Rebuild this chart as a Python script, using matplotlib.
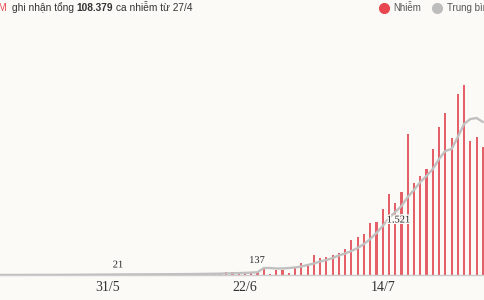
import numpy as np
import pandas as pd
import matplotlib
matplotlib.use("Agg")
import matplotlib.pyplot as plt
import matplotlib.dates as mdates
import matplotlib.patheffects as pe
from matplotlib.lines import Line2D

# daily new cases from 27/4
start = "2021-04-27"
cases = [0, 0, 0, 0, 1, 0, 0, 0, 0, 1, 0, 0, 0, 1, 0, 0, 0, 1, 0, 0, 2, 0, 1, 0, 2, 1, 3,
         3, 4, 5, 6, 6, 7, 8, 8, 9, 9, 10, 10, 11, 11, 12, 12, 13,
         25, 27, 30, 36, 38, 48, 51, 50, 60, 63, 72, 75, 74, 78, 76,
         168, 18, 125, 125, 58, 168, 293, 275, 500, 418, 443, 500, 543, 643, 875,
         958, 1018, 1308, 1325, 1643, 2018, 1793, 2075, 3525, 2293, 2475, 2658,
         3158, 3693, 4058, 3418, 4518, 4758, 3343, 3443, 3200]

# 7-day average as drawn
avg7 = [0, 0, 0, 0, 0, 0, 0, 0, 0, 1, 1, 1, 1, 1, 1, 1, 1,
        1, 1, 1, 1, 1, 2, 2, 2, 2, 3,
        4, 5, 6, 7, 8, 9, 10, 11, 12, 13, 14, 15, 16, 16, 17, 18, 19,
        20, 21, 22, 23, 25, 27, 29, 31, 34, 38, 42, 47, 53, 60, 68,
        175, 175, 163, 163, 175, 188, 213, 250, 288, 338, 375, 425, 488, 538, 600,
        675, 775, 900, 1050, 1225, 1425, 1575, 1725, 1950, 2125, 2325, 2475, 2650,
        2900, 3100, 3150, 3450, 3775, 3900, 3925, 3825]

tick_dates = ["2021-05-31", "2021-06-22", "2021-07-14"]
tick_labels = ["31/5", "22/6", "14/7"]

# (label, days after start, height)
notes = [("21", 35.7, 250), ("137", 57.9, 363), ("1.521", 80.5, 1375)]

bg = "#fbfaf7"
red = "#e45f68"
grey = "#c0c0c0"

dates = pd.date_range(start, periods=len(cases), freq="D")
x0 = mdates.date2num(pd.Timestamp(start))

fig = plt.figure(figsize=(4.85, 3.0), dpi=100, facecolor=bg)
ax = fig.add_axes([0, 25 / 300, 1, 245 / 300])
ax.set_facecolor(bg)

ax.bar(dates, cases, width=0.34, color=red, zorder=2)
ax.plot(dates, avg7, color=grey, lw=1.7, zorder=3, solid_capstyle="round")

for lab, d, v in notes:
    ax.text(x0 + d, v, lab, ha="center", va="center", fontsize=7.5,
            family="Liberation Serif", color="#222222", zorder=4,
            path_effects=[pe.withStroke(linewidth=2, foreground=bg)])

ax.set_xlim(x0 + 16.87, x0 + 94.34)
ax.set_ylim(0, 6125)
ax.set_xticks(pd.to_datetime(tick_dates))
ax.set_xticklabels(tick_labels, family="Liberation Serif", fontsize=10,
                   color="#333333")
ax.tick_params(axis="x", length=0, pad=4.5)
ax.set_yticks([])
for s in ["top", "left", "right"]:
    ax.spines[s].set_visible(False)
ax.spines["bottom"].set_color("#cccccc")
ax.spines["bottom"].set_linewidth(1)

# header
W, H = 485, 300
fig.text(6.5 / W, 1 - 8 / H, "TP HCM", ha="right", va="center",
         fontsize=7.3, family="Liberation Sans", color="#e8474f")
fig.canvas.draw()
r = fig.canvas.get_renderer()
xpos = 11.7
for piece, wt in [("ghi nhận tổng", "normal"), ("108.379", "bold"),
                  ("ca nhiễm từ 27/4", "normal")]:
    t = fig.text(xpos / W, 1 - 8 / H, piece, ha="left", va="center",
                 fontsize=7.3, family="Liberation Sans", weight=wt,
                 color="#333333")
    bb = t.get_window_extent(r)
    xpos = bb.x1 + 2.8

handles = [Line2D([], [], marker="o", ls="", color="#e8474f", markersize=7),
           Line2D([], [], marker="o", ls="", color="#bdbdbd", markersize=7)]
fig.legend(handles, ["Nhiễm", "Trung bình 7 ngày"], loc="center left",
           bbox_to_anchor=(379.1 / W, 1 - 8 / H), ncol=2, frameon=False,
           prop={"family": "Liberation Sans", "size": 7},
           labelcolor="#555555", handlelength=1.0, handletextpad=0.5,
           columnspacing=1.1, borderpad=0, borderaxespad=0)

fig.savefig("out.png", dpi=100, facecolor=bg)
